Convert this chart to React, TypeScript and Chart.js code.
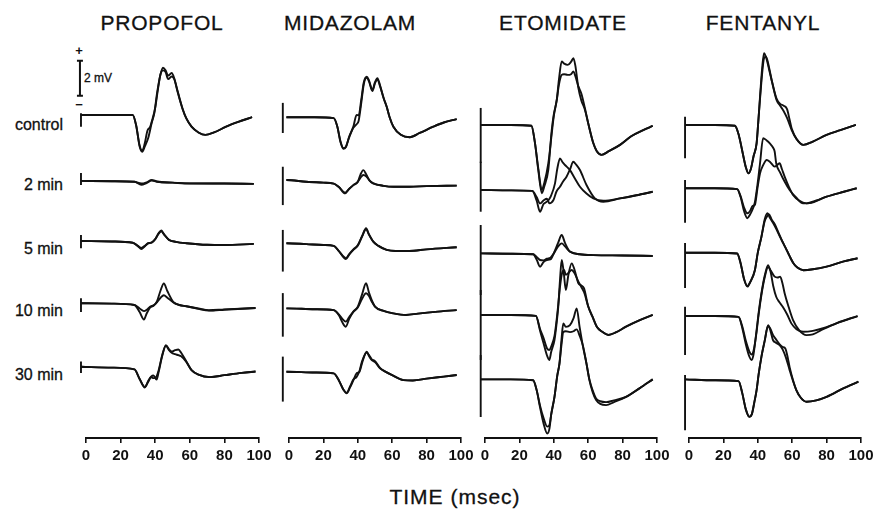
import React, { useEffect, useRef } from "react";
import { Chart, registerables } from "chart.js";

Chart.register(...registerables);

type P = [number, number];

// ---------- labels ----------
const DRUGS = ["PROPOFOL", "MIDAZOLAM", "ETOMIDATE", "FENTANYL"];
const CONDITIONS = ["control", "2 min", "5 min", "10 min", "30 min"];
const TIME_TICKS = [0, 20, 40, 60, 80, 100];
const X_TITLE = "TIME (msec)";
const SCALE_BAR_LABEL = "2 mV";
const SCALE_BAR_MV = 2;

// ---------- data: [time ms, mV] ----------
// PROPOFOL
const PRO_CTRL_A: P[] = [[-2.9,0],[10,0],[27,0],[29,-0.6],[31,-1.8],[32.5,-2.1],[34,-1.8],[36,-1.3],[38,-0.45],[39.5,0.1],[41,1.2],[43,2.3],[44.5,2.7],[46,2.55],[47.5,2.25],[49.5,2.4],[51,2.1],[53,1.3],[56,0.3],[58,-0.2],[61,-0.67],[65,-1.0],[69,-1.14],[74,-1.0],[81,-0.67],[88,-0.4],[96,-0.13]];
const PRO_CTRL_B: P[] = [[-2.9,0],[10,0],[27,0],[29,-0.6],[31,-1.75],[32.5,-2.05],[34,-1.6],[35.5,-0.9],[37,-0.7],[38.5,-0.2],[40,0.4],[41.5,1.4],[43,2.3],[44.5,2.55],[46,2.45],[47.5,2.05],[49.5,2.2],[51,2.05],[53,1.35],[56,0.3],[58,-0.2],[61,-0.67],[65,-1.0],[69,-1.14],[74,-1.0],[81,-0.67],[88,-0.4],[96,-0.13]];
const PRO_2_A: P[] = [[-2.9,0],[15,-0.02],[28,-0.05],[32,-0.22],[35,-0.12],[38,0.02],[41,-0.05],[50,-0.1],[60,-0.15],[80,-0.15],[97,-0.17]];
const PRO_2_B: P[] = [[-2.9,0],[15,-0.02],[28,-0.05],[32,-0.15],[35,-0.08],[38,0.06],[41,-0.03],[50,-0.1],[60,-0.14],[80,-0.15],[97,-0.17]];
const PRO_5_A: P[] = [[-2.9,0],[15,-0.03],[27,-0.1],[30,-0.3],[32,-0.46],[34,-0.3],[36,-0.13],[38,-0.1],[40,0.1],[42,0.45],[43.5,0.6],[45,0.4],[48,0.06],[52,-0.05],[58,-0.13],[70,-0.22],[80,-0.23],[97,-0.17]];
const PRO_5_B: P[] = [[-2.9,0],[15,-0.03],[27,-0.1],[30,-0.28],[32,-0.4],[34,-0.28],[36,-0.13],[38,-0.08],[40,0.1],[42,0.42],[43.5,0.55],[45,0.38],[48,0.06],[52,-0.05],[58,-0.13],[70,-0.22],[80,-0.23],[97,-0.17]];
const PRO_10_A: P[] = [[-2.9,0],[15,-0.02],[28,-0.1],[31,-0.5],[33.5,-0.93],[35,-0.6],[37,-0.25],[39,-0.15],[41,0.1],[43,0.7],[45,1.13],[47,0.7],[50.5,0.07],[54,-0.1],[58,-0.17],[65,-0.3],[71,-0.4],[80,-0.35],[98,-0.27]];
const PRO_10_B: P[] = [[-2.9,0],[15,-0.02],[28,-0.1],[31,-0.3],[33.5,-0.45],[35,-0.38],[37,-0.2],[39,-0.12],[41,0.05],[43,0.3],[45,0.46],[47,0.32],[50.5,0.05],[54,-0.1],[58,-0.17],[65,-0.32],[71,-0.42],[80,-0.37],[98,-0.27]];
const PRO_30_A: P[] = [[-2.9,0],[15,-0.05],[28,-0.15],[31,-0.7],[34,-1.18],[36,-0.8],[37.6,-0.57],[39,-0.5],[40.8,-0.73],[42,-0.3],[44,0.6],[46.2,1.24],[48,1.0],[49.5,0.87],[51.5,0.95],[53.4,0.99],[55,0.8],[58,0.3],[61,-0.19],[65,-0.45],[71.7,-0.59],[80,-0.48],[90,-0.35],[98,-0.27]];
const PRO_30_B: P[] = [[-2.9,0],[15,-0.05],[28,-0.15],[31,-0.7],[34,-1.15],[36,-0.85],[37.6,-0.6],[39,-0.65],[40.8,-0.55],[42,-0.2],[44,0.65],[46.2,1.2],[48,0.95],[49.5,0.8],[51.5,0.72],[53.4,0.66],[55,0.6],[58,0.28],[61,-0.19],[65,-0.45],[71.7,-0.59],[80,-0.48],[90,-0.35],[98,-0.27]];
const PRO_ARTIFACT: P[] = [[0.1,-0.67],[0.46,-0.23],[0.34,-0.42],[0.29,-0.5],[0.3,-0.36]];

// MIDAZOLAM
const MID_CTRL_A: P[] = [[-3.6,0],[-2.2,0],[-1.9,-0.5],[-1.5,0],[15,0],[26,-0.05],[28,-0.5],[30,-1.4],[31.6,-1.77],[33,-1.7],[35,-1.1],[37.4,-0.54],[39.3,0.13],[40.5,0.1],[42,1.0],[43.5,2.0],[45.2,2.32],[46.5,2.1],[48.5,1.56],[50,2.0],[51.4,2.23],[53,1.8],[55,1.1],[56.8,0.6],[58.5,0.0],[60.7,-0.54],[65,-1.0],[70.2,-1.14],[76,-0.9],[83.9,-0.54],[90,-0.3],[97.5,-0.11]];
const MID_CTRL_B: P[] = [[-3.6,0],[-2.2,0],[-1.9,-0.5],[-1.5,0],[15,0],[26,-0.05],[28,-0.5],[30,-1.45],[31.6,-1.8],[33,-1.72],[35,-1.15],[37.4,-0.6],[39.3,-0.4],[40.5,-0.2],[42,0.8],[43.5,1.9],[45.2,2.25],[46.5,2.05],[48.5,1.5],[50,1.95],[51.4,2.15],[53,1.75],[55,1.1],[56.8,0.6],[58.5,0.0],[60.7,-0.54],[65,-1.0],[70.2,-1.14],[76,-0.9],[83.9,-0.54],[90,-0.3],[97.5,-0.11]];
const MID_2_A: P[] = [[-3.6,0],[-2.2,0],[-1.9,-0.5],[-1.5,0],[10,-0.1],[20,-0.15],[26,-0.2],[29,-0.4],[32.6,-0.76],[35,-0.5],[37.4,-0.29],[40,-0.1],[41.5,0.3],[43.2,0.57],[45,0.3],[47,-0.05],[49,-0.19],[55,-0.33],[60.7,-0.38],[70,-0.38],[80,-0.35],[97.5,-0.32]];
const MID_2_B: P[] = [[-3.6,0],[-2.2,0],[-1.9,-0.5],[-1.5,0],[10,-0.1],[20,-0.15],[26,-0.2],[29,-0.4],[32.6,-0.72],[35,-0.5],[37.4,-0.29],[40,-0.1],[41.5,0.12],[43.2,0.29],[45,0.2],[47,-0.05],[49,-0.19],[55,-0.33],[60.7,-0.38],[70,-0.38],[80,-0.35],[97.5,-0.32]];
const MID_5_A: P[] = [[-3.6,0],[-2.2,0],[-1.9,-0.5],[-1.5,0],[10,-0.05],[20,-0.1],[26,-0.15],[29,-0.45],[33.1,-0.9],[35,-0.65],[37.4,-0.38],[40,-0.15],[42.5,0.4],[44.8,0.86],[46.5,0.5],[49,0.09],[52,-0.15],[56.8,-0.38],[62,-0.44],[70,-0.44],[80,-0.35],[97.5,-0.23]];
const MID_5_B: P[] = [[-3.6,0],[-2.2,0],[-1.9,-0.5],[-1.5,0],[10,-0.05],[20,-0.1],[26,-0.15],[29,-0.45],[33.1,-0.85],[35,-0.62],[37.4,-0.36],[40,-0.1],[42.5,0.4],[44.8,0.8],[46.5,0.5],[49,0.09],[52,-0.15],[56.8,-0.38],[62,-0.44],[70,-0.44],[80,-0.35],[97.5,-0.23]];
const MID_10_A: P[] = [[-3.6,0],[-2.2,0],[-1.9,-0.5],[-1.5,0],[15,-0.05],[26,-0.1],[29,-0.4],[31,-0.8],[33,-1.05],[35,-0.6],[37.4,-0.19],[40,0.1],[42.5,0.8],[44.8,1.43],[46.5,0.9],[48,0.5],[50,0.1],[55,-0.15],[60.7,-0.29],[68,-0.38],[75,-0.3],[85,-0.2],[97.5,-0.1]];
const MID_10_B: P[] = [[-3.6,0],[-2.2,0],[-1.9,-0.5],[-1.5,0],[15,-0.05],[26,-0.1],[29,-0.35],[31,-0.6],[33,-0.76],[35,-0.5],[37.4,-0.2],[40,0.05],[42.5,0.55],[44.8,0.86],[46.5,0.7],[48,0.4],[50,0.1],[55,-0.15],[60.7,-0.29],[68,-0.38],[75,-0.3],[85,-0.2],[97.5,-0.1]];
const MID_30_A: P[] = [[-3.6,0],[-2.2,0],[-1.9,-0.5],[-1.5,0],[15,-0.05],[26,-0.1],[29,-0.5],[31.5,-1.0],[33.5,-1.24],[35.5,-0.9],[37.4,-0.5],[39.3,-0.1],[41,0.0],[42.5,0.5],[45.2,1.14],[46.5,0.9],[48,0.67],[50,0.55],[52.9,0.19],[56,0.0],[60,-0.2],[66.5,-0.48],[72,-0.5],[80,-0.4],[90,-0.28],[97.5,-0.19]];
const MID_30_B: P[] = [[-3.6,0],[-2.2,0],[-1.9,-0.5],[-1.5,0],[15,-0.05],[26,-0.1],[29,-0.5],[31.5,-1.0],[33.5,-1.2],[35.5,-0.85],[37.4,-0.45],[39.3,-0.3],[41,0.05],[42.5,0.6],[45.2,1.1],[46.5,0.95],[48,0.72],[50,0.6],[52.9,0.22],[56,0.0],[60,-0.2],[66.5,-0.48],[72,-0.5],[80,-0.4],[90,-0.28],[97.5,-0.19]];
const MID_ARTIFACT: P[] = [[0.82,-0.9],[0.76,-1.43],[0.76,-1.62],[0.87,-1.62],[0.86,-1.71]];

// ETOMIDATE
const ETO_CTRL_A: P[] = [[-2.5,0],[15,0],[27,-0.05],[29,-1.0],[31,-2.6],[33,-3.9],[34.5,-3.5],[36.8,-2.57],[38.8,-0.29],[40,0.6],[41.7,1.43],[43,2.6],[44.6,3.62],[46,3.5],[48.1,3.43],[50,3.6],[51.4,3.81],[52.5,3.4],[54.3,2.1],[56,1.4],[58,0.9],[60,0.1],[63,-1.05],[65,-1.5],[67.8,-1.71],[72,-1.5],[78.5,-1.14],[85,-0.65],[92,-0.3],[97.5,-0.06]];
const ETO_CTRL_B: P[] = [[-2.5,0],[15,0],[27,-0.05],[29,-1.0],[31,-2.5],[33,-3.7],[34.5,-3.3],[36.8,-2.2],[38.8,-0.5],[40,0.5],[41.7,1.4],[43,2.3],[44.6,2.86],[46,2.9],[48.1,2.86],[50,2.9],[51.4,3.05],[52.5,2.8],[54.3,2.2],[56,1.8],[58,1.0],[60,0.1],[63,-1.05],[65,-1.5],[67.8,-1.71],[72,-1.5],[78.5,-1.14],[85,-0.65],[92,-0.3],[97.5,-0.06]];
const ETO_2_A: P[] = [[-2.5,0],[15,-0.02],[27.5,-0.05],[30,-0.6],[32,-1.24],[34,-0.8],[35.5,-0.7],[37,-0.57],[38.5,-0.3],[40.7,0.38],[42,1.2],[43.6,1.81],[45,1.6],[46.5,1.43],[49.4,1.14],[52,0.7],[55.2,0.19],[59,-0.2],[63,-0.48],[68.8,-0.61],[78.5,-0.48],[88,-0.3],[97.5,-0.1]];
const ETO_2_B: P[] = [[-2.5,0],[15,-0.02],[27.5,-0.05],[30,-0.4],[32,-0.76],[34,-0.6],[36,-0.5],[37.5,-0.76],[39.8,-0.57],[41.5,-0.1],[43.6,0.19],[45.5,0.5],[47.4,0.76],[49.5,1.2],[51.3,1.62],[53,1.45],[55.2,1.14],[59,0.29],[63.9,-0.48],[68.8,-0.67],[78.5,-0.48],[88,-0.3],[97.5,-0.1]];
const ETO_5_A: P[] = [[-2.5,0],[15,-0.02],[28,-0.05],[30,-0.35],[32,-0.76],[34,-0.5],[36,-0.38],[38,-0.35],[40,0.0],[42.5,0.6],[44.6,1.05],[46.5,0.6],[49.4,0.1],[55,-0.05],[63,-0.1],[80,-0.12],[97.5,-0.15]];
const ETO_5_B: P[] = [[-2.5,0],[15,-0.02],[28,-0.05],[30,-0.2],[32,-0.38],[34,-0.4],[36,-0.3],[38,-0.25],[40,0.0],[42.5,0.4],[44.6,0.57],[46.5,0.4],[49.4,0.1],[55,-0.05],[63,-0.1],[80,-0.12],[97.5,-0.15]];
const ETO_10_A: P[] = [[-2.5,0],[15,0],[29.6,-0.05],[32,-0.9],[34,-1.6],[36,-2.3],[37.4,-2.57],[38.5,-2.1],[40.4,-1.43],[41.5,-0.6],[42.6,0.48],[43.6,2.0],[44.6,3.14],[45.8,2.4],[47,1.43],[48.5,2.3],[50.4,2.95],[52,2.6],[54.3,1.81],[55.8,1.7],[57.6,1.52],[60,0.48],[62.5,-0.1],[65,-0.67],[68,-0.95],[71.7,-1.14],[76,-1.0],[82,-0.67],[90,-0.3],[97.5,0]];
const ETO_10_B: P[] = [[-2.5,0],[15,0],[29.6,-0.05],[32,-0.8],[34,-1.3],[36,-1.9],[37.4,-2.0],[38.5,-1.8],[40.4,-1.2],[41.5,-0.4],[42.6,0.6],[43.6,1.6],[44.6,2.3],[46,2.57],[47,2.29],[48.5,2.4],[50.4,2.57],[52,2.4],[54.3,1.9],[56,1.6],[57.6,1.3],[60,0.5],[62.5,-0.1],[65,-0.67],[68,-0.95],[71.7,-1.14],[76,-1.0],[82,-0.67],[90,-0.3],[97.5,0]];
const ETO_30_A: P[] = [[-2.5,0],[15,0],[28,-0.05],[30,-0.6],[32,-1.6],[34,-2.5],[36.2,-3.09],[37.5,-2.8],[38.5,-2.0],[40.4,-1.0],[42,0.2],[43.3,0.91],[44.5,2.3],[45.5,3.2],[47,3.0],[49.4,3.1],[51.5,3.5],[53.3,4.06],[55,3.0],[57,1.86],[59,0.9],[60.7,-0.04],[62.5,-0.7],[64.6,-1.18],[67,-1.4],[70.4,-1.47],[75,-1.3],[82,-1.0],[90,-0.5],[97.5,0]];
const ETO_30_B: P[] = [[-2.5,0],[15,0],[28,-0.05],[30,-0.6],[32,-1.5],[34,-2.2],[36.2,-2.7],[37.5,-2.6],[38.5,-2.0],[40.4,-1.0],[42,0.2],[43.3,0.9],[44.5,2.0],[45.5,2.7],[47,2.75],[49.4,2.7],[51.5,2.75],[53.3,2.86],[55,2.5],[57,1.9],[59,0.9],[60.7,0.0],[62.5,-0.6],[64.6,-1.1],[67,-1.25],[70.4,-1.3],[75,-1.2],[82,-1.0],[90,-0.5],[97.5,0]];
const ETO_ARTIFACT: P[] = [[0.97,-2.17],[1.62,-1.24],[1.62,-2.38],[1.43,-2.57],[1.39,-2.15]];

// FENTANYL
const FEN_CTRL_A: P[] = [[-2.3,0],[15,0],[26.7,-0.05],[29,-0.6],[31,-1.5],[33,-2.4],[34.5,-2.76],[36,-2.5],[37.5,-1.8],[39.3,-1.05],[40.3,0.2],[41.3,1.62],[42.5,3.2],[43.6,4.1],[45,3.8],[46.5,3.2],[48,2.57],[50.9,1.43],[53,1.1],[55,0.8],[57,0.4],[59.7,-0.29],[62.5,-0.8],[66.5,-1.14],[72,-0.95],[80,-0.57],[88,-0.3],[97,0]];
const FEN_CTRL_B: P[] = [[-2.3,0],[15,0],[26.7,-0.05],[29,-0.6],[31,-1.5],[33,-2.4],[34.5,-2.76],[36,-2.5],[37.5,-1.8],[39.3,-1.05],[40.3,0.2],[41.3,1.5],[42.5,2.9],[43.6,3.8],[44.8,3.9],[46.5,3.3],[48,2.6],[50.9,1.5],[53,1.2],[55,1.1],[57,0.9],[58.5,0.3],[59.7,-0.2],[62.5,-0.8],[66.5,-1.14],[72,-0.95],[80,-0.57],[88,-0.3],[97,0]];
const FEN_2_A: P[] = [[-2.3,0],[15,0],[28,-0.05],[30,-0.5],[32,-1.3],[33.9,-1.71],[35.5,-1.5],[37,-1.2],[38.3,-0.8],[39.8,0.2],[41.3,1.43],[43.1,2.86],[45,2.75],[47,2.57],[49,2.3],[49.8,2.1],[50.7,1.43],[53,0.9],[55.5,0.4],[58.5,-0.1],[62,-0.5],[66.3,-0.86],[70,-0.85],[80,-0.48],[90,-0.2],[97.5,0]];
const FEN_2_B: P[] = [[-2.3,0],[15,0],[28,-0.05],[30,-0.45],[32,-1.1],[33.9,-1.43],[35.5,-1.3],[37,-1.0],[38.3,-0.95],[39.8,0.0],[41.3,0.86],[43,1.3],[45.2,1.62],[47,1.52],[49.8,1.24],[51.5,1.35],[52.7,1.43],[54,1.1],[55.6,0.67],[58,0.1],[60.5,-0.38],[64,-0.7],[68.3,-0.86],[74,-0.7],[80,-0.48],[90,-0.2],[97.5,0]];
const FEN_5_A: P[] = [[-2.3,0],[15,0],[28,-0.05],[30,-0.6],[32,-1.5],[34,-1.94],[35.5,-1.7],[38.3,-1.0],[40,0.0],[42.1,0.9],[44,1.9],[45.6,2.25],[47,2.0],[49,1.68],[51,1.3],[52.9,0.9],[55,0.5],[56.8,0.15],[58.5,-0.2],[60.7,-0.6],[63,-0.85],[66.5,-1.0],[72,-0.95],[80,-0.8],[90,-0.5],[98,-0.32]];
const FEN_5_B: P[] = [[-2.3,0],[15,0],[28,-0.05],[30,-0.6],[32,-1.5],[34,-1.9],[35.5,-1.7],[38.3,-1.0],[40,0.0],[42.1,0.9],[44,1.8],[45.6,2.1],[46.5,2.2],[48,1.9],[50,1.6],[52,1.15],[54,0.7],[56.8,0.15],[58.5,-0.2],[60.7,-0.6],[63,-0.85],[66.5,-1.0],[72,-0.95],[80,-0.8],[90,-0.5],[98,-0.32]];
const FEN_10_A: P[] = [[-2.3,0],[15,0],[28.8,-0.05],[31,-0.7],[33,-1.6],[35,-2.3],[36.4,-2.51],[37.5,-2.2],[39.3,-0.8],[40.5,0.2],[42.1,1.3],[44,2.3],[46,2.91],[47.5,2.5],[49,1.7],[50.7,1.1],[52.5,0.8],[54.5,0.53],[57,0.1],[59.5,-0.42],[62.5,-0.75],[66.3,-0.9],[72,-0.85],[78,-0.7],[86,-0.4],[98,0]];
const FEN_10_B: P[] = [[-2.3,0],[15,0],[28.8,-0.05],[31,-0.6],[33,-1.4],[35,-2.0],[36.4,-2.2],[37.5,-2.0],[39.3,-0.9],[40.5,0.1],[42.1,1.2],[44,2.2],[46,2.8],[47.5,2.6],[49.8,2.25],[51.5,2.2],[53,2.25],[54.5,1.8],[55.6,1.3],[58,0.5],[60.5,-0.23],[64,-0.8],[68.3,-1.09],[72,-1.05],[78,-0.75],[86,-0.4],[98,0]];
const FEN_30_A: P[] = [[-2.3,0],[15,-0.05],[28.8,-0.1],[31,-0.8],[33,-1.7],[35.1,-2.14],[36.5,-2.0],[38,-1.3],[39.3,-0.61],[40.5,0.3],[42.1,1.29],[44,2.2],[46,3.1],[47.3,2.8],[48.8,2.25],[50.5,2.1],[52.7,1.96],[54.5,1.7],[56.5,1.2],[58.5,0.53],[60.5,-0.1],[62.4,-0.61],[65,-1.05],[68.3,-1.28],[74,-1.2],[80,-1.0],[90,-0.5],[98.5,-0.13]];
const FEN_30_B: P[] = [[-2.3,0],[15,-0.05],[28.8,-0.1],[31,-0.8],[33,-1.7],[35.1,-2.14],[36.5,-2.0],[38,-1.3],[39.3,-0.61],[40.5,0.3],[42.1,1.29],[44,2.2],[46,3.05],[47.3,2.9],[48.8,2.54],[50.5,2.3],[52.7,2.0],[54.5,1.85],[56,1.77],[57.5,1.2],[58.5,0.7],[60.5,-0.05],[62.4,-0.61],[65,-1.05],[68.3,-1.28],[74,-1.2],[80,-1.0],[90,-0.5],[98.5,-0.13]];
const FEN_ARTIFACT: P[] = [[0.47,-1.9],[0.47,-1.97],[0.55,-2.02],[0.53,-2.23],[0.25,-2.9]];

// ---------- layout (positions / offsets) ----------
const W = 880;
const H = 515;
const PAD = 20;
const TICK_FONT_SIZE = 15;
const TICK_PAD = 4;
const TICK_LEN = 5;
const AXIS_Y = 438;
// canvas height so that the plot bottom (axis line) lands on AXIS_Y
const CANVAS_H = Math.round(AXIS_Y + TICK_LEN + 2 * TICK_PAD + TICK_FONT_SIZE * 1.2);
const PX_PER_MV = 17.5;
const PANEL_X0 = [86, 289, 485, 689];
const PANEL_X100 = [259, 461, 657, 861];
const ROW_OFFSET_MV = [
  [18.46, 14.69, 11.26, 7.7, 4.07],
  [18.33, 14.74, 11.13, 7.41, 3.79],
  [17.89, 14.17, 10.55, 7.03, 3.35],
  [17.89, 14.27, 10.59, 6.97, 3.35],
];
const SCALE_BAR_T = -3.5;
const SCALE_BAR_TOP_MV = 21.56;
const FONT = "'Liberation Sans', Arial, Helvetica, sans-serif";
const INK = "#111111";
const LINE_W = 1.9;

const TRACES: P[][][][] = [
  [[PRO_CTRL_A, PRO_CTRL_B], [PRO_2_A, PRO_2_B], [PRO_5_A, PRO_5_B], [PRO_10_A, PRO_10_B], [PRO_30_A, PRO_30_B]],
  [[MID_CTRL_A, MID_CTRL_B], [MID_2_A, MID_2_B], [MID_5_A, MID_5_B], [MID_10_A, MID_10_B], [MID_30_A, MID_30_B]],
  [[ETO_CTRL_A, ETO_CTRL_B], [ETO_2_A, ETO_2_B], [ETO_5_A, ETO_5_B], [ETO_10_A, ETO_10_B], [ETO_30_A, ETO_30_B]],
  [[FEN_CTRL_A, FEN_CTRL_B], [FEN_2_A, FEN_2_B], [FEN_5_A, FEN_5_B], [FEN_10_A, FEN_10_B], [FEN_30_A, FEN_30_B]],
];
const ARTIFACTS: P[][] = [PRO_ARTIFACT, MID_ARTIFACT, ETO_ARTIFACT, FEN_ARTIFACT];

const scaleBarPlugin = {
  id: "scaleBar",
  afterDatasetsDraw(chart: any) {
    const { ctx, scales } = chart;
    const px = scales.x.getPixelForValue(SCALE_BAR_T);
    const yTop = scales.y.getPixelForValue(SCALE_BAR_TOP_MV);
    const yBot = scales.y.getPixelForValue(SCALE_BAR_TOP_MV - SCALE_BAR_MV);
    ctx.save();
    ctx.strokeStyle = INK;
    ctx.lineWidth = 2;
    ctx.beginPath();
    ctx.moveTo(px, yTop);
    ctx.lineTo(px, yBot);
    ctx.moveTo(px - 3, yTop);
    ctx.lineTo(px + 3, yTop);
    ctx.moveTo(px - 3, yBot);
    ctx.lineTo(px + 3, yBot);
    ctx.stroke();
    ctx.restore();
  },
};

function Panel({ idx }: { idx: number }) {
  const ref = useRef<HTMLCanvasElement | null>(null);
  const x0 = PANEL_X0[idx];
  const cw = PANEL_X100[idx] - x0 + 2 * PAD;
  useEffect(() => {
    const datasets: any[] = [];
    TRACES[idx].forEach((pair, r) => {
      const off = ROW_OFFSET_MV[idx][r];
      const t0 = pair[0][0][0];
      const [up, down] = ARTIFACTS[idx][r];
      datasets.push({
        data: [{ x: t0, y: off + down }, { x: t0, y: off + up }],
        borderColor: INK,
        borderWidth: LINE_W,
        pointRadius: 0,
        tension: 0,
        clip: false,
      });
      pair.forEach((tr) => {
        datasets.push({
          data: tr.map(([t, v]) => ({ x: t, y: off + v })),
          borderColor: INK,
          borderWidth: LINE_W,
          pointRadius: 0,
          cubicInterpolationMode: "monotone",
          clip: false,
        });
      });
    });
    const chart = new Chart(ref.current as HTMLCanvasElement, {
      type: "line",
      data: { datasets },
      options: {
        animation: false,
        responsive: false,
        maintainAspectRatio: false,
        layout: { padding: { left: PAD, right: PAD, top: 0, bottom: 0 } },
        plugins: { legend: { display: false }, tooltip: { enabled: false } },
        scales: {
          x: {
            type: "linear",
            min: TIME_TICKS[0],
            max: TIME_TICKS[TIME_TICKS.length - 1],
            position: "bottom",
            afterBuildTicks: (s: any) => {
              s.ticks = TIME_TICKS.map((v) => ({ value: v }));
            },
            ticks: {
              color: INK,
              padding: TICK_PAD,
              maxRotation: 0,
              autoSkip: false,
              font: { family: FONT, size: TICK_FONT_SIZE, weight: "bold" },
            },
            grid: { drawOnChartArea: false, drawTicks: true, tickLength: TICK_LEN, color: INK, lineWidth: 1.6 },
            border: { display: true, color: INK, width: 2 },
          },
          y: { type: "linear", min: 0, max: AXIS_Y / PX_PER_MV, display: false },
        },
      } as any,
      plugins: idx === 0 ? [scaleBarPlugin as any] : [],
    });
    return () => chart.destroy();
  }, [idx]);
  return (
    <canvas
      ref={ref}
      width={cw}
      height={CANVAS_H}
      style={{ position: "absolute", left: x0 - PAD, top: 0, width: cw, height: CANVAS_H }}
    />
  );
}

const TITLE_CX = [162, 350, 563, 763];
const ROW_LABEL_CY = [125, 185, 249, 311, 375];

function Text({ x, y, children, size, align = "center", weight = 400, spacing = 0 }: any) {
  const tx = align === "center" ? "-50%" : align === "right" ? "-100%" : "0";
  return (
    <div
      style={{
        position: "absolute",
        left: x,
        top: y,
        transform: `translate(${tx}, -50%)`,
        fontFamily: FONT,
        fontSize: size,
        fontWeight: weight,
        letterSpacing: spacing,
        lineHeight: 1,
        whiteSpace: "nowrap",
        color: INK,
        WebkitTextStroke: weight === 400 ? "0.3px #111" : undefined,
      }}
    >
      {children}
    </div>
  );
}

export default function App() {
  return (
    <div style={{ position: "absolute", left: 0, top: 0, width: W, height: H, background: "#fff", overflow: "hidden" }}>
      {DRUGS.map((d, i) => (
        <Text key={d} x={TITLE_CX[i]} y={22} size={21} spacing={0.8}>
          {d}
        </Text>
      ))}
      {CONDITIONS.map((c, i) => (
        <Text key={c} x={63} y={ROW_LABEL_CY[i]} size={16} align="right">
          {c}
        </Text>
      ))}
      <Text x={79} y={50} size={13} weight={700}>+</Text>
      <Text x={79} y={104} size={13} weight={700}>−</Text>
      <Text x={84} y={78} size={12} align="left">{SCALE_BAR_LABEL}</Text>
      {PANEL_X0.map((_, i) => (
        <Panel key={i} idx={i} />
      ))}
      <Text x={455} y={496} size={21} spacing={1}>
        {X_TITLE}
      </Text>
    </div>
  );
}
